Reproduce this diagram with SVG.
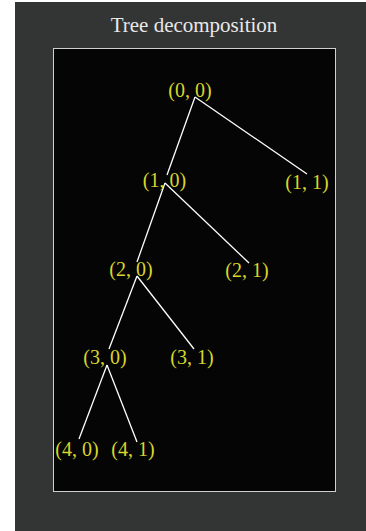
<svg xmlns="http://www.w3.org/2000/svg" width="366" height="531" viewBox="0 0 366 531">
<style>
.lbl{font-family:"Liberation Serif",serif;font-size:20px;fill:#d8d62a;text-anchor:middle}
.title{font-family:"Liberation Serif",serif;font-size:21px;fill:#e8e8e8;text-anchor:middle}
.edge{stroke:#ffffff;stroke-width:1.3;fill:none}
</style>
<rect x="0" y="0" width="366" height="531" fill="#ffffff"/>
<rect x="15" y="2" width="351" height="529" fill="#333434"/>
<text class="title" x="194" y="32">Tree decomposition</text>
<rect x="53.5" y="48.5" width="282" height="443" fill="#050505" stroke="#d0d0d0" stroke-width="1"/>
<g id="connectors">
<line class="edge" x1="195" y1="97" x2="167" y2="175"/>
<line class="edge" x1="195" y1="97" x2="307" y2="174"/>
<line class="edge" x1="165" y1="183" x2="137" y2="262"/>
<line class="edge" x1="165" y1="183" x2="249" y2="263"/>
<line class="edge" x1="137" y1="276" x2="109" y2="349"/>
<line class="edge" x1="137" y1="276" x2="194" y2="349"/>
<line class="edge" x1="107" y1="365" x2="79" y2="439"/>
<line class="edge" x1="107" y1="365" x2="137" y2="442"/>
</g>
<g id="n00"><text class="lbl" x="190" y="97">(0, 0)</text></g>
<g id="n10"><text class="lbl" x="164.5" y="187">(1, 0)</text></g>
<g id="n11"><text class="lbl" x="307" y="189">(1, 1)</text></g>
<g id="n20"><text class="lbl" x="131" y="276">(2, 0)</text></g>
<g id="n21"><text class="lbl" x="247" y="277">(2, 1)</text></g>
<g id="n30"><text class="lbl" x="105" y="364">(3, 0)</text></g>
<g id="n31"><text class="lbl" x="192" y="364">(3, 1)</text></g>
<g id="n40"><text class="lbl" x="77" y="456">(4, 0)</text></g>
<g id="n41"><text class="lbl" x="133" y="456">(4, 1)</text></g>
</svg>
